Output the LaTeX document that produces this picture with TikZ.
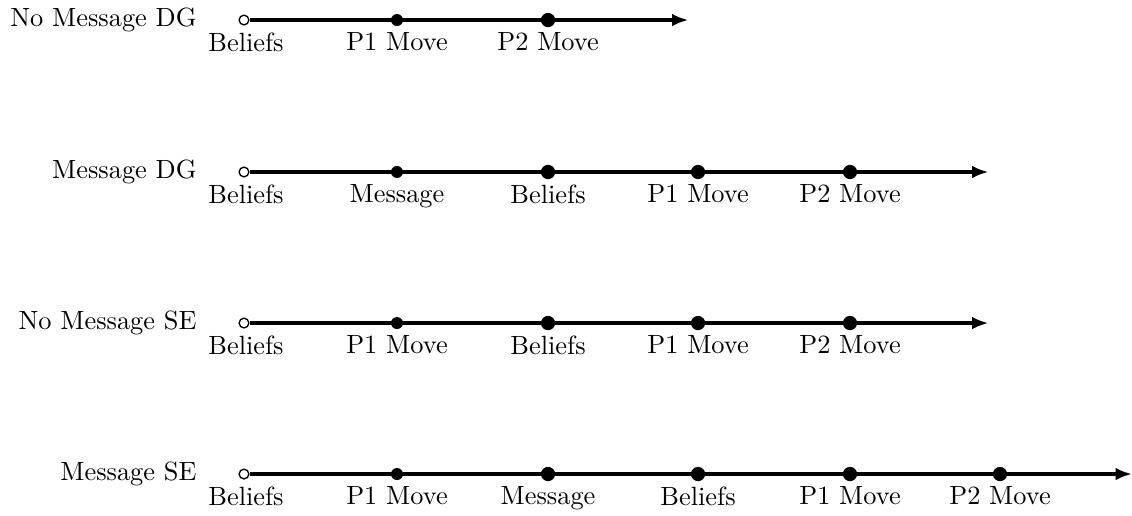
\documentclass[tikz,border=0pt]{standalone}
\usetikzlibrary{arrows.meta}
\begin{document}
\begin{tikzpicture}[
  x=1cm,y=1cm,
  opendot/.style={circle,draw,fill=white,line width=0.5pt,inner sep=0pt,minimum size=0.13cm},
  smalldot/.style={circle,fill=black,inner sep=0pt,minimum size=0.16cm},
  bigdot/.style={circle,fill=black,inner sep=0pt,minimum size=0.19cm},
  lbl/.style={anchor=north,inner sep=0pt},
  rowname/.style={anchor=east,inner sep=0pt},
  axis/.style={line width=1.4pt,-{Latex[length=0.22cm,width=0.17cm]}}
]
\useasboundingbox (0,0) rectangle (15.093,-6.867);
\def\off{0.16}
% ---------- row 1
\def\ya{-0.267}
\node[rowname] (r1) at (2.627,\ya) {No Message DG};
\node[opendot] (a0) at (3.253,\ya) {};
\node[smalldot] (a1) at (5.293,\ya) {};
\node[bigdot] (a2) at (7.307,\ya) {};
\coordinate (ae) at (9.18,\ya);
\draw[axis] (a0.east) -- (ae);
\node[lbl] (la0) at (3.28,\ya-\off) {Beliefs};
\node[lbl] (la1) at (5.293,\ya-\off) {P1 Move};
\node[lbl] (la2) at (7.307,\ya-\off) {P2 Move};
% ---------- row 2
\def\yb{-2.293}
\node[rowname] (r2) at (2.627,\yb) {Message DG};
\node[opendot] (b0) at (3.253,\yb) {};
\node[smalldot] (b1) at (5.293,\yb) {};
\node[bigdot] (b2) at (7.307,\yb) {};
\node[bigdot] (b3) at (9.307,\yb) {};
\node[bigdot] (b4) at (11.333,\yb) {};
\coordinate (be) at (13.18,\yb);
\draw[axis] (b0.east) -- (be);
\node[lbl] (lb0) at (3.28,\yb-\off) {Beliefs};
\node[lbl] (lb1) at (5.293,\yb-\off) {Message};
\node[lbl] (lb2) at (7.307,\yb-\off) {Beliefs};
\node[lbl] (lb3) at (9.307,\yb-\off) {P1 Move};
\node[lbl] (lb4) at (11.333,\yb-\off) {P2 Move};
% ---------- row 3
\def\yc{-4.307}
\node[rowname] (r3) at (2.627,\yc) {No Message SE};
\node[opendot] (c0) at (3.253,\yc) {};
\node[smalldot] (c1) at (5.293,\yc) {};
\node[bigdot] (c2) at (7.307,\yc) {};
\node[bigdot] (c3) at (9.307,\yc) {};
\node[bigdot] (c4) at (11.333,\yc) {};
\coordinate (ce) at (13.18,\yc);
\draw[axis] (c0.east) -- (ce);
\node[lbl] (lc0) at (3.28,\yc-\off) {Beliefs};
\node[lbl] (lc1) at (5.293,\yc-\off) {P1 Move};
\node[lbl] (lc2) at (7.307,\yc-\off) {Beliefs};
\node[lbl] (lc3) at (9.307,\yc-\off) {P1 Move};
\node[lbl] (lc4) at (11.333,\yc-\off) {P2 Move};
% ---------- row 4
\def\yd{-6.32}
\node[rowname] (r4) at (2.627,\yd) {Message SE};
\node[opendot] (d0) at (3.253,\yd) {};
\node[smalldot] (d1) at (5.293,\yd) {};
\node[bigdot] (d2) at (7.307,\yd) {};
\node[bigdot] (d3) at (9.307,\yd) {};
\node[bigdot] (d4) at (11.333,\yd) {};
\node[bigdot] (d5) at (13.333,\yd) {};
\coordinate (de) at (15.093,\yd);
\draw[axis] (d0.east) -- (de);
\node[lbl] (ld0) at (3.28,\yd-\off) {Beliefs};
\node[lbl] (ld1) at (5.293,\yd-\off) {P1 Move};
\node[lbl] (ld2) at (7.307,\yd-\off) {Message};
\node[lbl] (ld3) at (9.307,\yd-\off) {Beliefs};
\node[lbl] (ld4) at (11.333,\yd-\off) {P1 Move};
\node[lbl] (ld5) at (13.333,\yd-\off) {P2 Move};
\end{tikzpicture}
\end{document}
